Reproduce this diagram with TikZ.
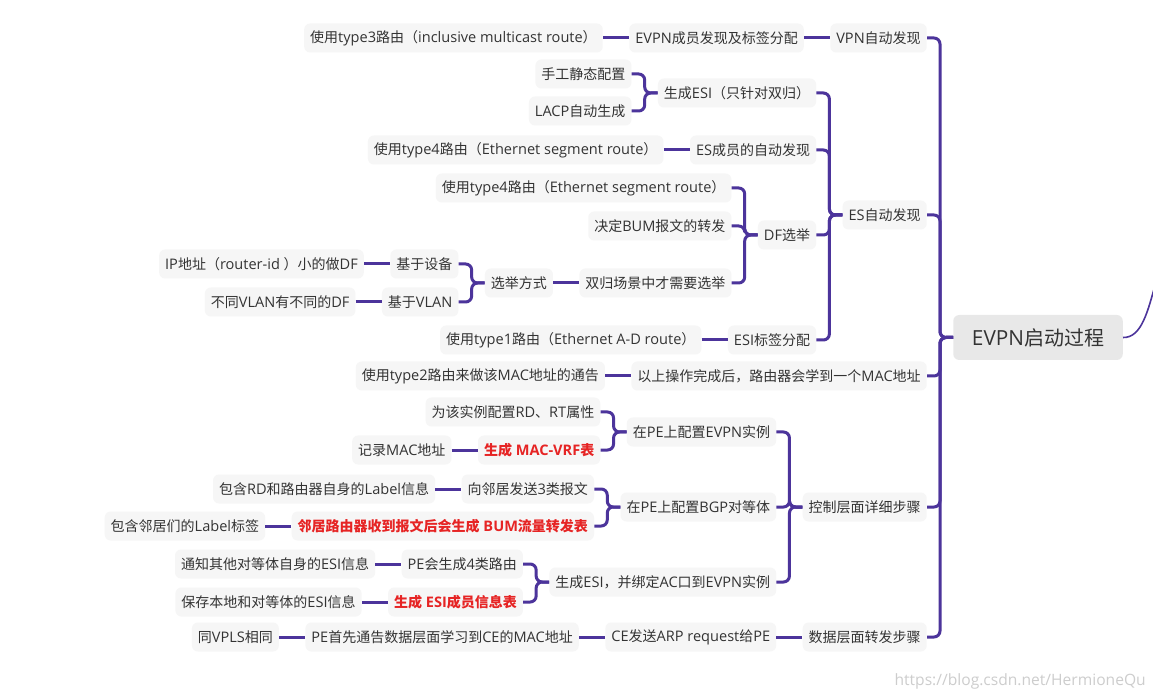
\documentclass[tikz,border=0pt]{standalone}
\usepackage{fontspec}
\setmainfont{Noto Sans CJK SC}
\newfontfamily\lat{Open Sans}[Scale=1.04]
\newcommand\la[1]{{\lat#1}}
\definecolor{lc}{RGB}{76,52,155}
\definecolor{bf}{RGB}{246,246,246}
\definecolor{rf}{RGB}{232,232,232}
\definecolor{tx}{RGB}{51,51,51}
\definecolor{hr}{RGB}{230,36,36}
\definecolor{wm}{RGB}{205,205,205}
\newcommand\kid[5][]{%
  \path (#3.west) ++(-26,0) coordinate (k-#2);
  \node[box,#1] (#2) at (k-#2 |- 0,#4) {#5};}
\newcommand\one[2]{\draw[conn] (#1.east) -- (#2.west);}
\newcommand\br[2]{\draw[conn] (#1.east) -- ++(13,0) |- (#2.west);}
\begin{document}
\begin{tikzpicture}[x=0.75pt,y=-0.75pt,
  box/.style={fill=bf, text=tx, rounded corners=4.5pt, inner xsep=4.5pt, inner ysep=0pt,
    minimum height=21.75pt, font=\fontsize{10.5}{12}\selectfont, anchor=east},
  hot/.style={text=hr, font=\fontsize{10.5}{12}\selectfont\bfseries},
  conn/.style={draw=lc, line width=2.25pt, rounded corners=4.5pt},
  thin/.style={draw=lc, line width=1.2pt}]
\useasboundingbox (0,0) rectangle (1153,698);
\fill[white] (0,0) rectangle (1153,698);

% root
\node[box, fill=rf, font=\fontsize{15}{18}\selectfont, inner xsep=14pt,
  minimum height=33.75pt, anchor=center] (R) at (1038,337.5) {\la{EVPN}启动过程};
\coordinate (up) at (1156,282);
\draw[thin] (R.east) .. controls (1142,338) and (1148,310) .. (up);

% level 1
\kid{A}{R}{38}{\la{VPN}自动发现}
\kid{B}{R}{215}{\la{ES}自动发现}
\kid{C}{R}{376}{以上操作完成后，路由器会学到一个\la{MAC}地址}
\kid{D}{R}{507}{控制层面详细步骤}
\kid{E}{R}{637}{数据层面转发步骤}

% VPN branch
\kid{A1}{A}{38}{\la{EVPN}成员发现及标签分配}
\kid{A11}{A1}{38}{使用\la{type3}路由（\la{inclusive multicast route}）}

% ES branch
\kid{B1}{B}{93}{生成\la{ESI}（只针对双归）}
\kid{B11}{B1}{74}{手工静态配置}
\kid{B12}{B1}{111}{\la{LACP}自动生成}
\kid{B2}{B}{150}{\la{ES}成员的自动发现}
\kid{B21}{B2}{150}{使用\la{type4}路由（\la{Ethernet segment route}）}
\kid{B3}{B}{235}{\la{DF}选举}
\kid{B31}{B3}{188}{使用\la{type4}路由（\la{Ethernet segment route}）}
\kid{B32}{B3}{226}{决定\la{BUM}报文的转发}
\kid{B33}{B3}{283}{双归场景中才需要选举}
\kid{B331}{B33}{283}{选举方式}
\kid{B3311}{B331}{264}{基于设备}
\kid{B33111}{B3311}{264}{\la{IP}地址（\la{router-id }）小的做\la{DF}}
\kid{B3312}{B331}{302}{基于\la{VLAN}}
\kid{B33121}{B3312}{302}{不同\la{VLAN}有不同的\la{DF}}
\kid{B4}{B}{340}{\la{ESI}标签分配}
\kid{B41}{B4}{340}{使用\la{type1}路由（\la{Ethernet A-D route}）}

% MAC
\kid{C1}{C}{376}{使用\la{type2}路由来做该\la{MAC}地址的通告}

% control plane
\kid{D1}{D}{432}{在\la{PE}上配置\la{EVPN}实例}
\kid{D11}{D1}{412}{为该实例配置\la{RD}、\la{RT}属性}
\kid[hot]{D12}{D1}{450}{生成\la{ MAC-VRF}表}
\kid{D121}{D12}{450}{记录\la{MAC}地址}
\kid{D2}{D}{507}{在\la{PE}上配置\la{BGP}对等体}
\kid{D21}{D2}{489}{向邻居发送\la{3}类报文}
\kid{D211}{D21}{489}{包含\la{RD}和路由器自身的\la{Label}信息}
\kid[hot]{D22}{D2}{526}{邻居路由器收到报文后会生成\la{ BUM}流量转发表}
\kid{D221}{D22}{526}{包含邻居们的\la{Label}标签}
\kid{D3}{D}{582}{生成\la{ESI}，并绑定\la{AC}口到\la{EVPN}实例}
\kid{D31}{D3}{564}{\la{PE}会生成\la{4}类路由}
\kid{D311}{D31}{564}{通知其他对等体自身的\la{ESI}信息}
\kid[hot]{D32}{D3}{602}{生成\la{ ESI}成员信息表}
\kid{D321}{D32}{602}{保存本地和对等体的\la{ESI}信息}

% data plane
\kid{E1}{E}{637}{\la{CE}发送\la{ARP request}给\la{PE}}
\kid{E11}{E1}{637}{\la{PE}首先通告数据层面学习到\la{CE}的\la{MAC}地址}
\kid{E111}{E11}{637}{同\la{VPLS}相同}

% connectors
\br{A}{R} \br{B}{R} \br{C}{R} \br{D}{R} \br{E}{R}
\one{A1}{A} \one{A11}{A1}
\br{B1}{B} \br{B2}{B} \br{B3}{B} \br{B4}{B}
\br{B11}{B1} \br{B12}{B1}
\one{B21}{B2}
\br{B31}{B3} \br{B32}{B3} \br{B33}{B3}
\one{B331}{B33}
\br{B3311}{B331} \br{B3312}{B331}
\one{B33111}{B3311} \one{B33121}{B3312}
\one{B41}{B4}
\one{C1}{C}
\br{D1}{D} \br{D2}{D} \br{D3}{D}
\br{D11}{D1} \br{D12}{D1} \one{D121}{D12}
\br{D21}{D2} \br{D22}{D2} \one{D211}{D21} \one{D221}{D22}
\br{D31}{D3} \br{D32}{D3} \one{D311}{D31} \one{D321}{D32}
\one{E1}{E} \one{E11}{E1} \one{E111}{E11}

% watermark
\node[anchor=east, text=wm, font=\fontsize{11.25}{13}\selectfont, inner sep=0pt] (wmk)
  at (1146,681) {\la{https://blog.csdn.net/HermioneQu}};
\end{tikzpicture}
\end{document}
